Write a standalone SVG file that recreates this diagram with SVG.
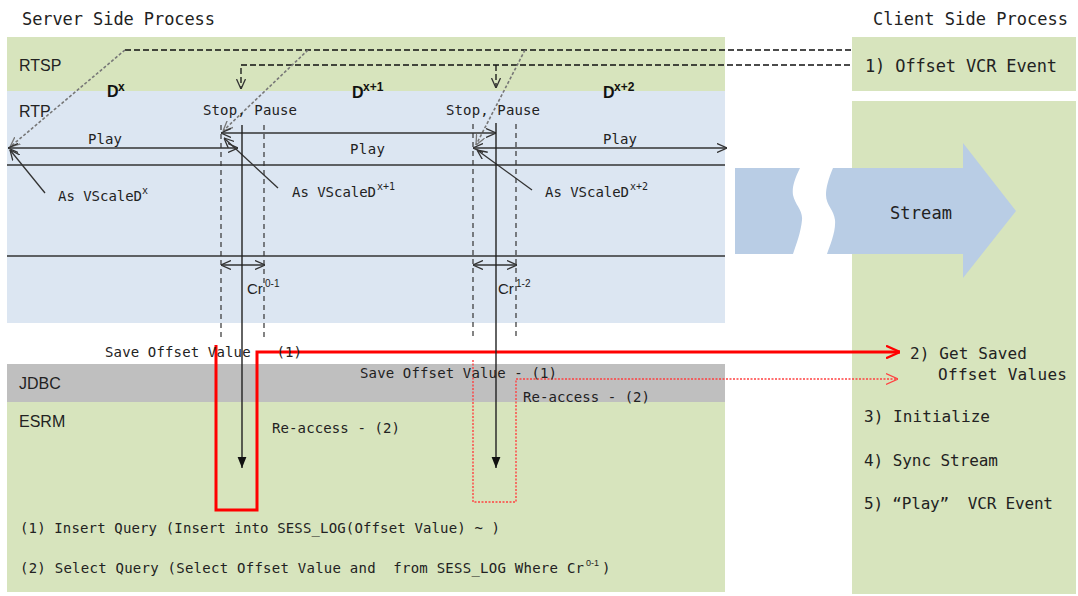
<svg xmlns="http://www.w3.org/2000/svg" width="1078" height="596" viewBox="0 0 1078 596">
<style>
.m{font-family:"DejaVu Sans Mono","Liberation Mono",monospace;fill:#222;white-space:pre}
.s{font-family:"Liberation Sans",Arial,sans-serif;fill:#222}
.b{font-family:"Liberation Sans",Arial,sans-serif;font-weight:bold;fill:#111}
.ln{stroke:#333;stroke-width:1.3;fill:none}
.dash{stroke:#111;stroke-width:1.3;stroke-dasharray:6 3;fill:none}
.vd{stroke:#333;stroke-width:1.2;stroke-dasharray:5 4;fill:none}
.gd{stroke:#777;stroke-width:1.6;stroke-dasharray:3 2;fill:none}
</style>
<defs>
<marker id="ah" viewBox="0 0 10 10" refX="10" refY="5" markerWidth="10" markerHeight="10" markerUnits="userSpaceOnUse" orient="auto-start-reverse"><path d="M0,0.5 L10,5 L0,9.5" fill="none" stroke="#333" stroke-width="1.3" stroke-dasharray="none"/></marker>
<marker id="ahg" viewBox="0 0 10 10" refX="10" refY="5" markerWidth="10" markerHeight="10" markerUnits="userSpaceOnUse" orient="auto"><path d="M0,0.5 L10,5 L0,9.5" fill="none" stroke="#777" stroke-width="1.3" stroke-dasharray="none"/></marker>
<marker id="fa" viewBox="0 0 10 10" refX="10" refY="5" markerWidth="11" markerHeight="11" markerUnits="userSpaceOnUse" orient="auto"><path d="M0,1 L10,5 L0,9 Z" fill="#111"/></marker>
<marker id="ar" viewBox="0 0 10 10" refX="10" refY="5" markerWidth="14" markerHeight="14" markerUnits="userSpaceOnUse" orient="auto"><path d="M0,0.5 L10,5 L0,9.5" fill="none" stroke="#ff0000" stroke-width="1.6" stroke-dasharray="none"/></marker>
<marker id="ard" viewBox="0 0 10 10" refX="10" refY="5" markerWidth="12" markerHeight="12" markerUnits="userSpaceOnUse" orient="auto"><path d="M0,0.5 L10,5 L0,9.5" fill="none" stroke="#ff4040" stroke-width="1" stroke-dasharray="none"/></marker>
</defs>

<rect width="1078" height="596" fill="#ffffff"/>

<g id="rtsp">
<rect x="7" y="37" width="718" height="54" fill="#d7e4bd"/>
<text class="s" x="19" y="71" font-size="16">RTSP</text>
</g>
<g id="rtp">
<rect x="7" y="91" width="718" height="232" fill="#dce6f2"/>
<text class="s" x="19" y="117" font-size="16">RTP</text>
</g>
<g id="jdbc">
<rect x="7" y="364" width="718" height="38" fill="#bfbfbf"/>
<text class="s" x="19" y="389" font-size="16">JDBC</text>
</g>
<g id="esrm">
<rect x="7" y="402" width="718" height="190" fill="#d7e4bd"/>
<text class="s" x="19" y="427" font-size="16">ESRM</text>
</g>
<g id="client-event">
<rect x="852" y="37" width="224" height="54" fill="#d7e4bd"/>
<text class="m" x="865" y="72" font-size="17" textLength="192">1) Offset VCR Event</text>
</g>
<g id="client-steps">
<rect x="852" y="101" width="224" height="493" fill="#d7e4bd"/>
<text class="m" x="910" y="359" font-size="16" textLength="117">2) Get Saved</text>
<text class="m" x="938" y="380" font-size="16" textLength="129">Offset Values</text>
<text class="m" x="864" y="422" font-size="16" textLength="126">3) Initialize</text>
<text class="m" x="864" y="466" font-size="16" textLength="134">4) Sync Stream</text>
<text class="m" x="864" y="509" font-size="16" textLength="189">5) “Play”  VCR Event</text>
</g>
<g id="stream">
<path d="M735,168 H800 C794,180 792,188 793,195 C795,205 803,210 802,220 C801,232 796,245 793,254 H735 Z" fill="#b9cde5"/>
<path d="M833,168 H963 V143 L1016,211 L963,278 V254 H827 C830,245 836,232 835,220 C834,210 826,205 826,195 C826,188 828,180 833,168 Z" fill="#b9cde5"/>
<text class="m" x="890" y="219" font-size="17" textLength="62">Stream</text>
</g>

<g id="headers">
<text class="m" x="22" y="25" font-size="17" textLength="193" fill="#333">Server Side Process</text>
<text class="m" x="873" y="25" font-size="17" textLength="195" fill="#333">Client Side Process</text>
</g>

<g id="connectors">
<line class="ln" x1="7" y1="165" x2="725" y2="165"/>
<line class="ln" x1="7" y1="256" x2="725" y2="256"/>
<path class="dash" d="M125,50 H852"/>
<path class="dash" d="M850,65 H241 V89" marker-end="url(#ah)"/>
<path class="dash" d="M496,65 V88" marker-end="url(#ah)"/>
<line class="gd" x1="125" y1="50" x2="10" y2="147" marker-end="url(#ahg)"/>
<line class="gd" x1="308" y1="50" x2="223" y2="131" marker-end="url(#ahg)"/>
<line class="gd" x1="525" y1="50" x2="476" y2="145" marker-end="url(#ahg)"/>
<line class="ln" x1="8" y1="148" x2="238" y2="148" marker-start="url(#ah)" marker-end="url(#ah)"/>
<line class="ln" x1="221" y1="133" x2="496" y2="133" marker-start="url(#ah)" marker-end="url(#ah)"/>
<line class="ln" x1="473" y1="148" x2="727" y2="148" marker-start="url(#ah)" marker-end="url(#ah)"/>
<line class="ln" x1="45" y1="193" x2="10" y2="150" marker-end="url(#ah)"/>
<line class="ln" x1="278" y1="188" x2="224" y2="138" marker-end="url(#ah)"/>
<line class="ln" x1="532" y1="190" x2="477" y2="150" marker-end="url(#ah)"/>
<line class="vd" x1="221" y1="125" x2="221" y2="340"/>
<line class="vd" x1="264" y1="125" x2="264" y2="340"/>
<line class="vd" x1="473" y1="124" x2="473" y2="340"/>
<line class="vd" x1="516" y1="124" x2="516" y2="340"/>
<line class="ln" x1="221" y1="265" x2="265" y2="265" marker-start="url(#ah)" marker-end="url(#ah)"/>
<line class="ln" x1="473" y1="265" x2="517" y2="265" marker-start="url(#ah)" marker-end="url(#ah)"/>
<path d="M216,345 V510 H257 V352 H900" fill="none" stroke="#ff0000" stroke-width="3" marker-end="url(#ar)"/>
<path d="M473,360 V502 H516 V379 H898" fill="none" stroke="#ff4040" stroke-width="1.4" stroke-dasharray="2 1.5" marker-end="url(#ard)"/>
<line x1="242" y1="125" x2="242" y2="468" stroke="#222" stroke-width="1.4" marker-end="url(#fa)"/>
<line x1="496" y1="123" x2="496" y2="468" stroke="#222" stroke-width="1.4" marker-end="url(#fa)"/>
</g>

<g id="labels">
<text class="b" x="107" y="97" font-size="16">D</text><text class="b" x="118" y="91" font-size="12">x</text>
<text class="b" x="352" y="98" font-size="16">D</text><text class="b" x="363" y="91" font-size="12">x+1</text>
<text class="b" x="603" y="98" font-size="16">D</text><text class="b" x="614" y="91" font-size="12">x+2</text>

<text class="m" x="203" y="115" font-size="14" textLength="94">Stop, Pause</text>
<text class="m" x="446" y="115" font-size="14" textLength="94">Stop, Pause</text>

<text class="m" x="88" y="144" font-size="14" textLength="34">Play</text>
<text class="m" x="350" y="154" font-size="14" textLength="35">Play</text>
<text class="m" x="603" y="144" font-size="14" textLength="34">Play</text>

<text class="m" x="58" y="201" font-size="14" textLength="84">As VScaleD</text><text class="m" x="142" y="194" font-size="10" fill="#667">x</text>
<text class="m" x="292" y="197" font-size="14" textLength="84">As VScaleD</text><text class="m" x="377" y="190" font-size="10" fill="#667">x+1</text>
<text class="m" x="545" y="197" font-size="14" textLength="84">As VScaleD</text><text class="m" x="630" y="190" font-size="10" fill="#667">x+2</text>

<text class="s" x="247" y="294" font-size="15">Cr</text><text class="s" x="265" y="287" font-size="10">0-1</text>
<text class="s" x="498" y="294" font-size="15">Cr</text><text class="s" x="516" y="287" font-size="10">1-2</text>

<text class="m" x="105" y="357" font-size="14" textLength="197">Save Offset Value   (1)</text>
<text class="m" x="360" y="378" font-size="14" textLength="197">Save Offset Value - (1)</text>
<text class="m" x="523" y="402" font-size="14" textLength="127">Re-access - (2)</text>
<text class="m" x="272" y="433" font-size="14" textLength="128">Re-access - (2)</text>

<text class="m" x="20" y="533" font-size="14" textLength="480">(1) Insert Query (Insert into SESS_LOG(Offset Value) ~ )</text>
<text class="m" x="20" y="573" font-size="14" textLength="564">(2) Select Query (Select Offset Value and  from SESS_LOG Where Cr</text><text class="s" x="586" y="566" font-size="9">0-1</text><text class="m" x="602" y="573" font-size="14">)</text>
</g>
</svg>
